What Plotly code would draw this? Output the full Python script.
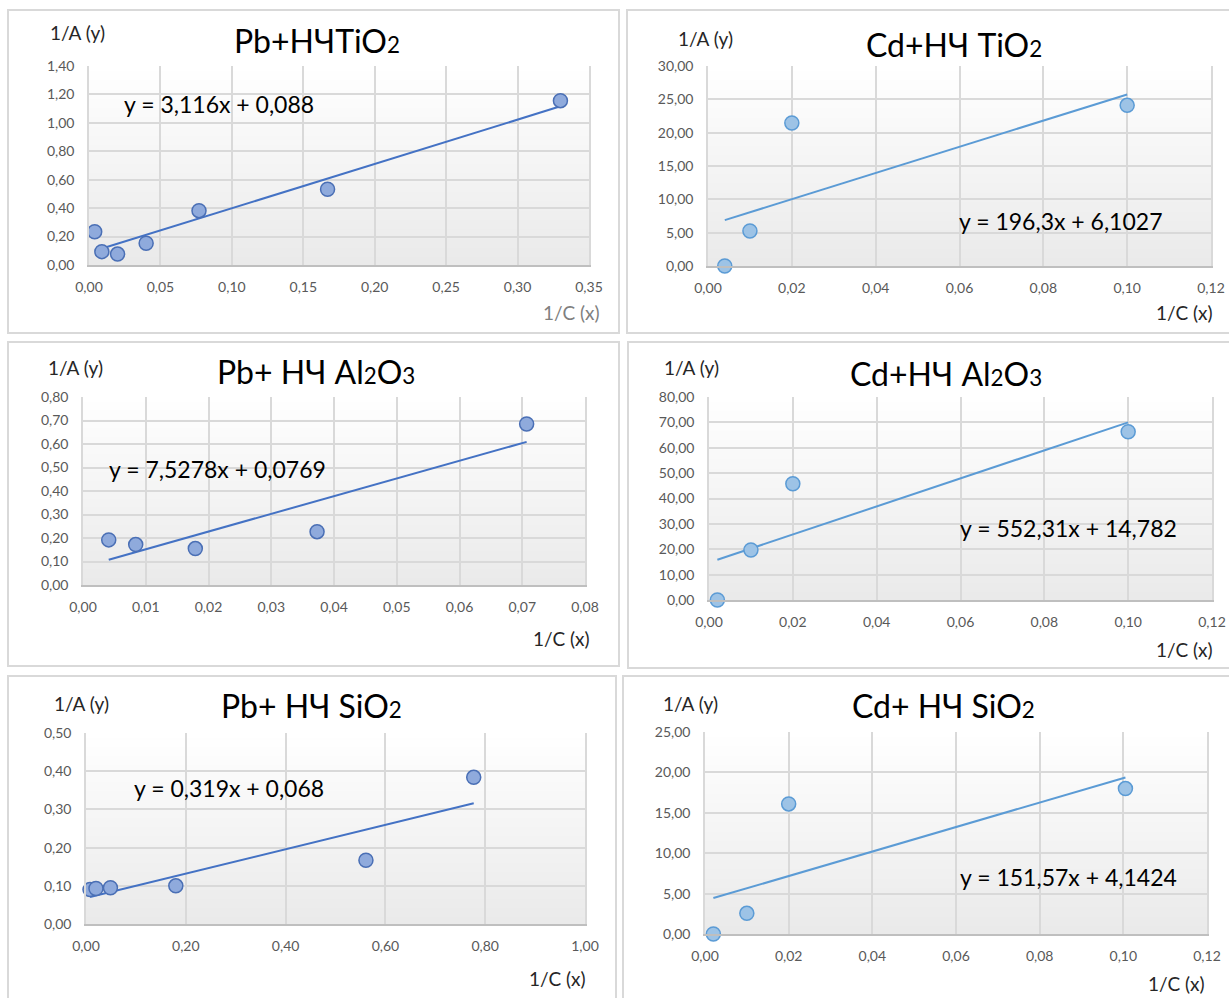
import base64, struct, zlib
import plotly.graph_objects as go

W, H = 1229, 998

# ---------------- data ----------------
titles = ["Pb+НЧTiO<span style='font-size:70%'>2</span>",
          "Cd+НЧ TiO<span style='font-size:70%'>2</span>",
          "Pb+ НЧ Al<span style='font-size:70%'>2</span>O<span style='font-size:70%'>3</span>",
          "Cd+НЧ Al<span style='font-size:70%'>2</span>O<span style='font-size:70%'>3</span>",
          "Pb+ НЧ SiO<span style='font-size:70%'>2</span>",
          "Cd+ НЧ SiO<span style='font-size:70%'>2</span>"]

pb_tio2_x = [0.004, 0.009, 0.02, 0.04, 0.077, 0.167, 0.33]
pb_tio2_y = [0.234, 0.094, 0.077, 0.153, 0.382, 0.533, 1.156]
cd_tio2_x = [0.004, 0.01, 0.02, 0.1]
cd_tio2_y = [0.0, 5.25, 21.45, 24.1]
pb_al2o3_x = [0.0041, 0.0084, 0.0179, 0.0373, 0.0707]
pb_al2o3_y = [0.192, 0.172, 0.155, 0.227, 0.685]
cd_al2o3_x = [0.002, 0.01, 0.02, 0.1]
cd_al2o3_y = [0.0, 19.7, 45.8, 66.3]
pb_sio2_x = [0.008, 0.02, 0.049, 0.18, 0.561, 0.777]
pb_sio2_y = [0.090, 0.093, 0.095, 0.100, 0.167, 0.384]
cd_sio2_x = [0.002, 0.01, 0.02, 0.1005]
cd_sio2_y = [0.0, 2.56, 16.1, 18.0]

slopes = [3.116, 196.3, 7.5278, 552.31, 0.319, 151.57]
intercepts = [0.088, 6.1027, 0.0769, 14.782, 0.068, 4.1424]
equations = ["y = 3,116x + 0,088", "y = 196,3x + 6,1027", "y = 7,5278x + 0,0769",
             "y = 552,31x + 14,782", "y = 0,319x + 0,068", "y = 151,57x + 4,1424"]

x_ranges = [[0, 0.35], [0, 0.12], [0, 0.08], [0, 0.12], [0, 1.0], [0, 0.12]]
x_dticks = [0.05, 0.02, 0.01, 0.02, 0.2, 0.02]
y_ranges = [[0, 1.4], [0, 30], [0, 0.8], [0, 80], [0, 0.5], [0, 25]]
y_dticks = [0.2, 5, 0.1, 10, 0.1, 5]

xs = [pb_tio2_x, cd_tio2_x, pb_al2o3_x, cd_al2o3_x, pb_sio2_x, cd_sio2_x]
ys = [pb_tio2_y, cd_tio2_y, pb_al2o3_y, cd_al2o3_y, pb_sio2_y, cd_sio2_y]

# ---------------- layout geometry (pixels) ----------------
plot_boxes = [(89, 589, 66, 265), (708, 1211, 66, 266),
              (83, 585, 397, 585), (709, 1212, 397, 600),
              (86, 585, 733, 924), (705, 1207, 732, 934)]
frame_boxes = [(8, 619, 10, 333), (627, 1240, 10, 333),
               (8, 619, 342, 666), (628, 1240, 342, 668),
               (8, 616, 676, 1010), (623, 1240, 676, 1010)]
title_pos = [(317, 40), (954, 45), (316, 371), (946, 373), (311, 705), (944, 705)]
eq_pos = [(219, 104), (1060, 221), (217, 469), (1068, 528), (229, 788), (1068, 877)]
ylab_pos = [(77, 32), (705, 39), (75, 368), (691, 367), (81, 703), (690, 703)]
xlab_pos = [(571, 313), (1184, 313), (561, 638), (1184, 649), (557, 978), (1176, 983)]
xlab_col = ["#7f7f7f", "#262626", "#262626", "#262626", "#262626", "#262626"]

def fx(p):
    return p / W

def fy(p):
    return 1 - p / H

# gradient png for plot area background
def grad_png(top=(255, 255, 255), bottom=(234, 234, 234), n=64):
    raw = b""
    for i in range(n):
        t = i / (n - 1)
        c = tuple(int(round(top[k] + (bottom[k] - top[k]) * t)) for k in range(3))
        raw += b"\x00" + bytes(c)
    def chunk(tag, data):
        return struct.pack(">I", len(data)) + tag + data + struct.pack(">I", zlib.crc32(tag + data) & 0xffffffff)
    png = b"\x89PNG\r\n\x1a\n"
    png += chunk(b"IHDR", struct.pack(">IIBBBBB", 1, n, 8, 2, 0, 0, 0))
    png += chunk(b"IDAT", zlib.compress(raw))
    png += chunk(b"IEND", b"")
    return "data:image/png;base64," + base64.b64encode(png).decode()

GRAD = grad_png()

FONT = "Lato"
fig = go.Figure()
layout = dict(template="none", width=W, height=H, margin=dict(l=0, r=0, t=0, b=0, pad=0),
              autosize=False,
              paper_bgcolor="white", plot_bgcolor="rgba(0,0,0,0)",
              separators=", ", showlegend=False,
              font=dict(family=FONT, color="#595959"))
shapes, annotations, images = [], [], []

for i in range(6):
    n = i + 1
    xa = "x" if n == 1 else f"x{n}"
    ya = "y" if n == 1 else f"y{n}"
    is_pb = (i % 2 == 0)
    line_col = "#4472c4" if is_pb else "#5b9bd5"
    fill_col = "#8faadc" if is_pb else "#9dc3e6"
    edge_col = "#4a6fb5" if is_pb else "#5b9bd5"

    l, r, t, b = plot_boxes[i]
    layout["xaxis" if n == 1 else f"xaxis{n}"] = dict(
        domain=[fx(l), fx(r)], anchor=ya, range=x_ranges[i], dtick=x_dticks[i], tick0=0,
        tickformat=".2f", showgrid=True, gridcolor="#d9d9d9", gridwidth=1.5,
        zeroline=False, showline=True, linecolor="#bfbfbf", linewidth=1.5,
        ticks="outside", ticklen=8, tickcolor="rgba(0,0,0,0)", automargin=False,
        tickfont=dict(family=FONT, size=14, color="#595959"), fixedrange=True)
    layout["yaxis" if n == 1 else f"yaxis{n}"] = dict(
        domain=[fy(b), fy(t)], anchor=xa, range=y_ranges[i], dtick=y_dticks[i], tick0=0,
        tickformat=".2f", showgrid=True, gridcolor="#d9d9d9", gridwidth=1.5,
        zeroline=False, showline=True, linecolor="#d9d9d9", linewidth=1.5, mirror=True,
        ticks="outside", ticklen=10, tickcolor="rgba(0,0,0,0)", automargin=False,
        tickfont=dict(family=FONT, size=14, color="#595959"), fixedrange=True)

    images.append(dict(source=GRAD, xref=f"{xa} domain", yref=f"{ya} domain",
                       x=0, y=1, sizex=1, sizey=1, sizing="stretch",
                       xanchor="left", yanchor="top", layer="below"))

    # trendline over data range
    x0, x1 = min(xs[i]), max(xs[i])
    fig.add_trace(go.Scatter(x=[x0, x1], y=[slopes[i] * x0 + intercepts[i], slopes[i] * x1 + intercepts[i]],
                             mode="lines", line=dict(color=line_col, width=2),
                             xaxis=xa, yaxis=ya, hoverinfo="skip"))
    fig.add_trace(go.Scatter(x=xs[i], y=ys[i], mode="markers",
                             marker=dict(size=14, color=fill_col, line=dict(color=edge_col, width=1.5)),
                             xaxis=xa, yaxis=ya, cliponaxis=False))

    fl, fr, ft, fb = frame_boxes[i]
    shapes.append(dict(type="rect", xref="paper", yref="paper",
                       x0=fx(fl), x1=fx(fr), y0=fy(fb), y1=fy(ft),
                       line=dict(color="#d9d9d9", width=2), fillcolor="rgba(0,0,0,0)", layer="below"))

    tx, ty = title_pos[i]
    annotations.append(dict(text=titles[i], x=fx(tx), y=fy(ty), xref="paper", yref="paper",
                            showarrow=False, xanchor="center", yanchor="middle",
                            font=dict(family=FONT, size=32, color="#000000")))
    ex, ey = eq_pos[i]
    annotations.append(dict(text=equations[i], x=fx(ex), y=fy(ey), xref="paper", yref="paper",
                            showarrow=False, xanchor="center", yanchor="middle",
                            font=dict(family=FONT, size=23, color="#000000")))
    lx, ly = ylab_pos[i]
    annotations.append(dict(text="1/A (y)", x=fx(lx), y=fy(ly), xref="paper", yref="paper",
                            showarrow=False, xanchor="center", yanchor="middle",
                            font=dict(family=FONT, size=19, color="#262626")))
    cx, cy = xlab_pos[i]
    annotations.append(dict(text="1/C (x)", x=fx(cx), y=fy(cy), xref="paper", yref="paper",
                            showarrow=False, xanchor="center", yanchor="middle",
                            font=dict(family=FONT, size=19, color=xlab_col[i])))

layout["shapes"] = shapes
layout["annotations"] = annotations
layout["images"] = images
fig.update_layout(**layout)
fig.write_html("out.html", config={"displayModeBar": False},
               post_script="document.body.style.margin='0px';document.body.style.overflow='hidden';")
